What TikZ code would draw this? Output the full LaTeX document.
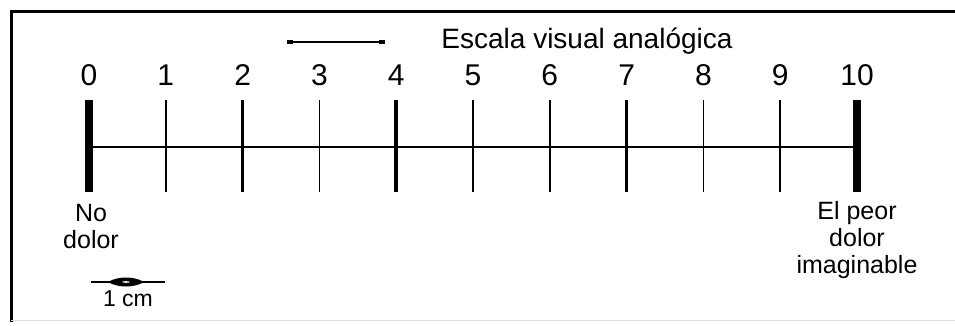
\documentclass[tikz,border=0pt]{standalone}
\usepackage{fontspec}
\setmainfont{Liberation Sans}
\usetikzlibrary{positioning}
\tikzset{
  num/.style={font=\fontsize{30}{30}\selectfont, inner sep=0pt},
  titulo/.style={font=\fontsize{28}{28}\selectfont, inner sep=0pt},
  lbl/.style={font=\fontsize{25}{27}\selectfont, align=center, inner sep=0pt},
  punta/.style={fill, minimum width=6pt, minimum height=4pt, inner sep=0pt},
}
\begin{document}
\begin{tikzpicture}[x=1pt,y=1pt]
  \useasboundingbox (0,0) rectangle (955,325);
  % marco
  \draw[line width=3pt] (955,314) -- (11,314) -- (11,3);
  \draw[black!12, line width=1pt] (11,5) -- (955,5);

  \foreach \i in {0,...,10}{
    \pgfmathsetmacro{\x}{89+76.8*\i}
    \coordinate (t\i) at (\x,225);
    \coordinate (b\i) at (\x,133);
    \node[num] (n\i) at (\x,250) {\i};
  }
  \coordinate (a0) at (89,178);
  \coordinate (a10) at (857,178);
  \draw[line width=1.5pt] (a0) -- (a10);
  \foreach \i/\w in {0/8,1/1.5,2/3.5,3/1.5,4/3.5,5/1.5,6/1.5,7/3.5,8/1.5,9/1.5,10/8}{
    \draw[line width=\w pt] (t\i) -- (b\i);
  }

  \node[titulo] (titulo) at (587,284) {Escala visual analógica};
  \node[punta] (s1) at (290,283) {};
  \node[punta] (s2) at (382,283) {};
  \draw[line width=1.5pt] (s1) -- (s2);

  \node[lbl] (nodolor) at (91,98) {No\\dolor};
  \node[lbl] (peor) at (857,84.5) {El peor\\dolor\\imaginable};

  % 1 cm
  \coordinate (c1) at (91,43);
  \coordinate (c2) at (165,43);
  \draw[line width=2.2pt] (c1) -- (c2);
  \fill (108,43) .. controls (118,49) and (134,49) .. (144,43)
        .. controls (134,37) and (118,37) .. (108,43);
  \fill[white] (126,43) ellipse (4 and 0.8);
  \node[lbl, font=\fontsize{23}{23}\selectfont] (uncm) at (128,26) {1 cm};
\end{tikzpicture}
\end{document}
